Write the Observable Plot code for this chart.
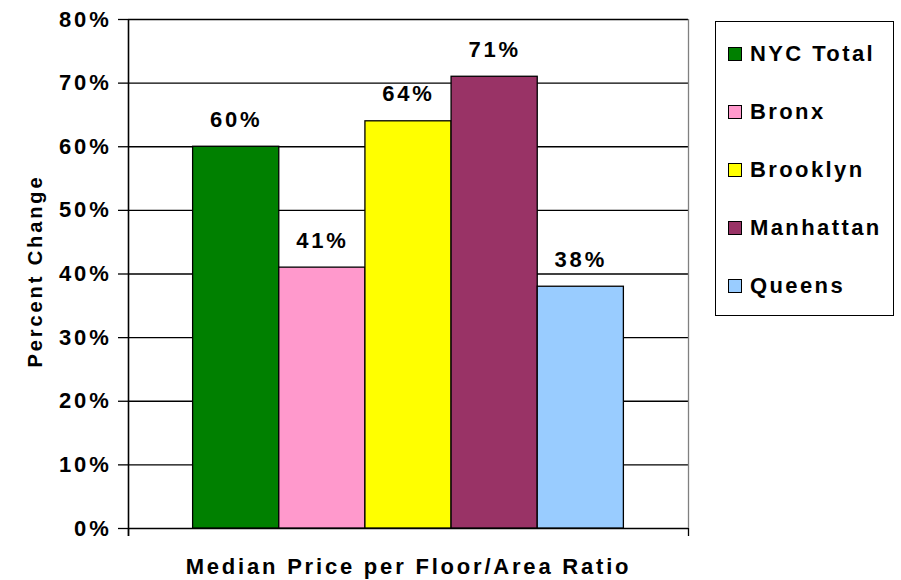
<!DOCTYPE html>
<html>
<head>
<meta charset="utf-8">
<script src="https://cdn.jsdelivr.net/npm/d3@7"></script>
<script src="https://cdn.jsdelivr.net/npm/@observablehq/plot@0.6"></script>
<style>
  body { margin: 0; background: #fff; }
  #wrap { position: relative; width: 901px; height: 580px; font-family: "Liberation Sans", Arial, sans-serif; }
  #wrap svg text { letter-spacing: 2.8px; }
  #wrap svg g.ytitle text { letter-spacing: 2.9px; }
  #legend { position: absolute; left: 715px; top: 21px; width: 177px; height: 290px; border: 1.5px solid #000;
            background: #fff; padding-top: 3px; display: flex; flex-direction: column; }
  .item { flex: 1; display: flex; align-items: center; font-weight: bold; font-size: 22px; letter-spacing: 2.4px; color: #000; }
  .sw { width: 12px; height: 12px; border: 1.5px solid #000; margin-left: 12px; margin-right: 8px; flex: none; }
</style>
</head>
<body>
<div id="wrap"></div>
<script>
const series = ["NYC Total", "Bronx", "Brooklyn", "Manhattan", "Queens"];
const values = [0.60, 0.41, 0.64, 0.71, 0.38];
const colors = ["#008000", "#FF99CC", "#FFFF00", "#993366", "#99CCFF"];
const yTicks = [0, 0.1, 0.2, 0.3, 0.4, 0.5, 0.6, 0.7, 0.8];
const xTitle = "Median Price per Floor/Area Ratio";
const yTitle = "Percent Change";
const gapWidth = 1.5; // Excel-style gap width (in bar widths)

const data = series.map((s, i) => ({series: s, value: values[i], i}));
const pct = d3.format(".0%");
const xMin = -gapWidth / 2, xMax = series.length + gapWidth / 2;
const font = "'Liberation Sans', Arial, sans-serif";

const chart = Plot.plot({
  width: 901, height: 580,
  marginLeft: 128, marginRight: 213, marginTop: 19, marginBottom: 52,
  style: {fontFamily: font, fontSize: "22px", fontWeight: "bold", color: "#000", background: "#fff", overflow: "visible"},
  x: {type: "linear", domain: [xMin, xMax], axis: null},
  y: {domain: [0, 0.8], axis: null},
  color: {domain: series, range: colors},
  marks: [
    Plot.ruleY(yTicks, {stroke: "#000", strokeWidth: 1.3}),
    Plot.ruleX([xMax], {stroke: "#808080", strokeWidth: 1.3}),
    Plot.rectY(data, {x1: d => d.i, x2: d => d.i + 1, y: "value", fill: "series", stroke: "#000", strokeWidth: 1.3}),
    Plot.text(data, {x: d => d.i + 0.5, y: "value", text: d => pct(d.value), lineAnchor: "bottom", dy: -20,
      fontSize: 22, fontWeight: "bold", fill: "#000"}),
    Plot.ruleX([xMin], {stroke: "#000", strokeWidth: 1.6, insetBottom: -8}),
    Plot.axisX([xMin, xMax], {tickSize: 8, tickFormat: () => "", stroke: "#000", strokeWidth: 1.3, label: null}),
    Plot.axisY(yTicks, {tickFormat: pct, tickSize: 10, tickPadding: 7, fontSize: 22, fontWeight: "bold",
      stroke: "#000", strokeWidth: 1.3, label: null}),
    Plot.text([xTitle], {frameAnchor: "bottom", lineAnchor: "bottom", dy: 45, fontSize: 22, fontWeight: "bold", fill: "#000"}),
    Plot.text([yTitle], {frameAnchor: "left", textAnchor: "middle", rotate: -90, dx: -93, dy: -3, lineAnchor: "middle",
      fontSize: 20, fontWeight: "bold", fill: "#000", className: "ytitle"})
  ]
});

const wrap = document.getElementById("wrap");
wrap.appendChild(chart);

const legend = document.createElement("div");
legend.id = "legend";
series.forEach((s, i) => {
  const item = document.createElement("div");
  item.className = "item";
  const sw = document.createElement("span");
  sw.className = "sw";
  sw.style.background = colors[i];
  const label = document.createElement("span");
  label.textContent = s;
  item.appendChild(sw);
  item.appendChild(label);
  legend.appendChild(item);
});
wrap.appendChild(legend);
</script>
</body>
</html>
